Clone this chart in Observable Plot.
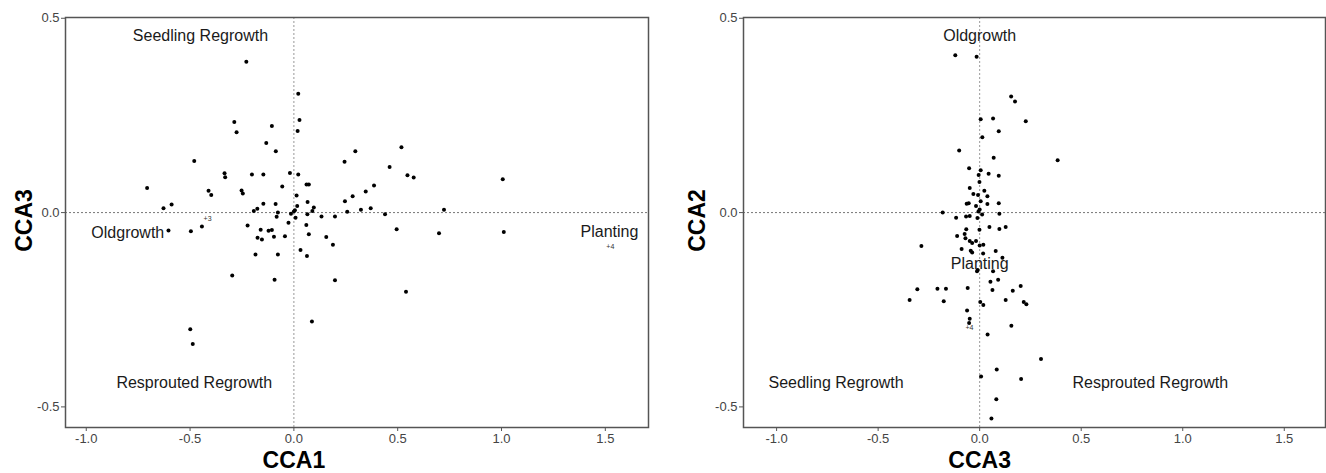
<!DOCTYPE html>
<html>
<head>
<meta charset="utf-8">
<script src="https://cdn.jsdelivr.net/npm/d3@7"></script>
<script src="https://cdn.jsdelivr.net/npm/@observablehq/plot@0.6"></script>
<style>
  html, body { margin: 0; padding: 0; background: #fff; }
  #wrap { display: flex; width: 1326px; height: 473px; }
</style>
</head>
<body>
<div id="wrap"></div>
<script>
// ---- Panel 1: CCA1 (x) vs CCA3 (y) ----
const p1CCA1 = [-0.229,0.021,0.027,0.018,-0.287,-0.276,-0.106,-0.133,-0.087,-0.480,-0.334,-0.331,-0.202,-0.147,-0.019,0.021,-0.056,0.061,0.072,-0.707,-0.411,-0.398,-0.252,-0.246,0.013,0.066,-0.628,-0.589,-0.147,-0.088,0.016,0.096,0.089,-0.176,-0.193,0.005,0.000,-0.077,-0.014,0.065,0.133,0.198,-0.083,0.008,-0.026,0.060,-0.496,-0.443,-0.223,-0.160,-0.122,-0.106,-0.096,-0.043,0.072,-0.175,-0.154,0.156,0.188,0.032,-0.185,-0.077,0.063,-0.297,-0.093,0.198,0.296,0.244,0.386,0.346,0.283,0.246,0.370,0.323,0.257,0.518,0.461,0.547,0.577,0.439,0.723,0.495,0.699,1.006,1.011,0.540,0.087,-0.604,-0.499,-0.487];
const p1CCA3 = [0.388,0.306,0.238,0.210,0.233,0.207,0.223,0.179,0.158,0.133,0.101,0.091,0.098,0.098,0.102,0.098,0.067,0.072,0.072,0.063,0.056,0.045,0.057,0.049,0.044,0.027,0.011,0.021,0.023,0.022,0.017,0.013,0.004,0.010,0.004,0.006,0.003,0.000,-0.003,-0.004,-0.010,-0.010,-0.011,-0.013,-0.026,-0.032,-0.048,-0.036,-0.033,-0.044,-0.047,-0.045,-0.062,-0.061,-0.056,-0.065,-0.069,-0.063,-0.083,-0.096,-0.108,-0.108,-0.112,-0.162,-0.173,-0.174,0.158,0.131,0.070,0.054,0.042,0.029,0.011,0.007,0.002,0.168,0.117,0.096,0.090,-0.004,0.007,-0.043,-0.053,0.086,-0.050,-0.204,-0.280,-0.046,-0.300,-0.338];
const p1Labels = ["Seedling Regrowth", "Oldgrowth", "Resprouted Regrowth", "Planting"];
const p1LabelX = [-0.45, -0.80, -0.48, 1.52];
const p1LabelY = [0.455, -0.053, -0.438, -0.05];
const p1Marks = ["+3", "+4"];
const p1MarkX = [-0.435, 1.505];
const p1MarkY = [-0.017, -0.087];

// ---- Panel 2: CCA3 (x) vs CCA2 (y) ----
const p2CCA3 = [-0.120,-0.015,0.155,0.174,0.005,0.066,0.227,0.094,0.013,-0.101,0.384,0.069,-0.052,0.005,-0.005,0.044,0.094,-0.001,-0.049,-0.031,-0.008,0.023,0.038,0.005,-0.064,-0.054,-0.018,0.038,0.094,0.000,-0.006,0.012,-0.182,-0.116,-0.067,-0.049,-0.011,0.097,-0.066,-0.001,0.048,0.097,0.128,-0.111,-0.074,-0.070,-0.049,-0.037,-0.018,0.000,0.018,-0.287,-0.089,-0.044,-0.037,0.017,0.079,0.112,-0.013,-0.010,0.066,0.053,0.091,-0.307,-0.208,-0.166,-0.059,0.063,0.163,0.202,-0.345,-0.177,0.003,0.018,0.128,0.217,0.230,-0.062,-0.049,-0.052,0.156,0.039,0.302,0.084,0.007,0.204,0.082,0.058];
const p2CCA2 = [0.405,0.401,0.299,0.286,0.240,0.242,0.235,0.209,0.194,0.160,0.135,0.141,0.114,0.109,0.097,0.100,0.095,0.079,0.063,0.048,0.045,0.056,0.042,0.029,0.023,0.024,0.017,0.022,0.024,0.008,0.003,-0.005,0.000,-0.013,-0.010,-0.009,-0.014,-0.003,-0.043,-0.044,-0.037,-0.042,-0.037,-0.060,-0.055,-0.066,-0.073,-0.078,-0.073,-0.085,-0.083,-0.086,-0.094,-0.098,-0.103,-0.105,-0.099,-0.116,-0.151,-0.148,-0.151,-0.178,-0.173,-0.197,-0.196,-0.196,-0.194,-0.199,-0.201,-0.189,-0.225,-0.228,-0.230,-0.238,-0.225,-0.230,-0.236,-0.252,-0.273,-0.284,-0.291,-0.314,-0.377,-0.404,-0.422,-0.428,-0.480,-0.530];
const p2Labels = ["Oldgrowth", "Planting", "Seedling Regrowth", "Resprouted Regrowth"];
const p2LabelX = [0.0, 0.0, -0.707, 0.84];
const p2LabelY = [0.455, -0.131, -0.438, -0.438];
const p2Marks = ["+4"];
const p2MarkX = [-0.07];
const p2MarkY = [-0.296];

const xTicks = [-1.0, -0.5, 0.0, 0.5, 1.0, 1.5];
const yTicks = [-0.5, 0.0, 0.5];
const xName1 = "CCA1", yName1 = "CCA3";
const xName2 = "CCA3", yName2 = "CCA2";

const fmt = d => d.toFixed(1);

function panel({xs, ys, labs, lx, ly, mk, mx, my, xDomain, xName, yName, marginLeft, marginRight, yLabelDx}) {
  const pts = xs.map((x, i) => ({x, y: ys[i]}));
  const labels = labs.map((t, i) => ({t, x: lx[i], y: ly[i]}));
  const small = mk.map((t, i) => ({t, x: mx[i], y: my[i]}));
  return Plot.plot({
    width: 663,
    height: 473,
    marginTop: 17,
    marginBottom: 46,
    marginLeft,
    marginRight,
    style: {fontFamily: "'Liberation Sans', Arial, sans-serif", fontSize: "13px", background: "#fff", overflow: "visible"},
    x: {domain: xDomain, ticks: xTicks, tickFormat: fmt},
    y: {domain: [-0.553, 0.502], ticks: yTicks, tickFormat: fmt},
    marks: [
      Plot.ruleY([0], {stroke: "#777", strokeWidth: 1, strokeDasharray: "2,2"}),
      Plot.ruleX([0], {stroke: "#999", strokeWidth: 1, strokeDasharray: "2,2"}),
      Plot.frame({stroke: "#555", strokeWidth: 1.5}),
      Plot.axisX({ticks: xTicks, tickFormat: fmt, tickSize: 4, tickPadding: 2, fontSize: 13, color: "#444", stroke: "#555", label: null}),
      Plot.axisY({ticks: yTicks, tickFormat: fmt, tickSize: 4, tickPadding: 2, fontSize: 13, color: "#444", stroke: "#555", label: null}),
      Plot.dot(pts, {x: "x", y: "y", r: 2, fill: "#000", stroke: "none"}),
      Plot.text(labels, {x: "x", y: "y", text: "t", fontSize: 16, fill: "#1a1a1a"}),
      Plot.text(small, {x: "x", y: "y", text: "t", fontSize: 7, fill: "#333", textAnchor: "start"}),
      Plot.text([xName], {frameAnchor: "bottom", x: [0], text: d => d, dy: 40, lineAnchor: "bottom", textAnchor: "middle", fontSize: 23, fontWeight: "bold", fill: "#000"}),
      Plot.text([yName], {frameAnchor: "left", text: d => d, dx: yLabelDx, dy: -2, rotate: -90, textAnchor: "middle", lineAnchor: "middle", fontSize: 23, fontWeight: "bold", fill: "#000"})
    ]
  });
}

const wrap = document.getElementById("wrap");
wrap.append(panel({xs: p1CCA1, ys: p1CCA3, labs: p1Labels, lx: p1LabelX, ly: p1LabelY, mk: p1Marks, mx: p1MarkX, my: p1MarkY,
  xDomain: [-1.10, 1.708], xName: xName1, yName: yName1, marginLeft: 65, marginRight: 15, yLabelDx: -41}));
wrap.append(panel({xs: p2CCA3, ys: p2CCA2, labs: p2Labels, lx: p2LabelX, ly: p2LabelY, mk: p2Marks, mx: p2MarkX, my: p2MarkY,
  xDomain: [-1.163, 1.703], xName: xName2, yName: yName2, marginLeft: 80, marginRight: 1, yLabelDx: -46}));
</script>
</body>
</html>
